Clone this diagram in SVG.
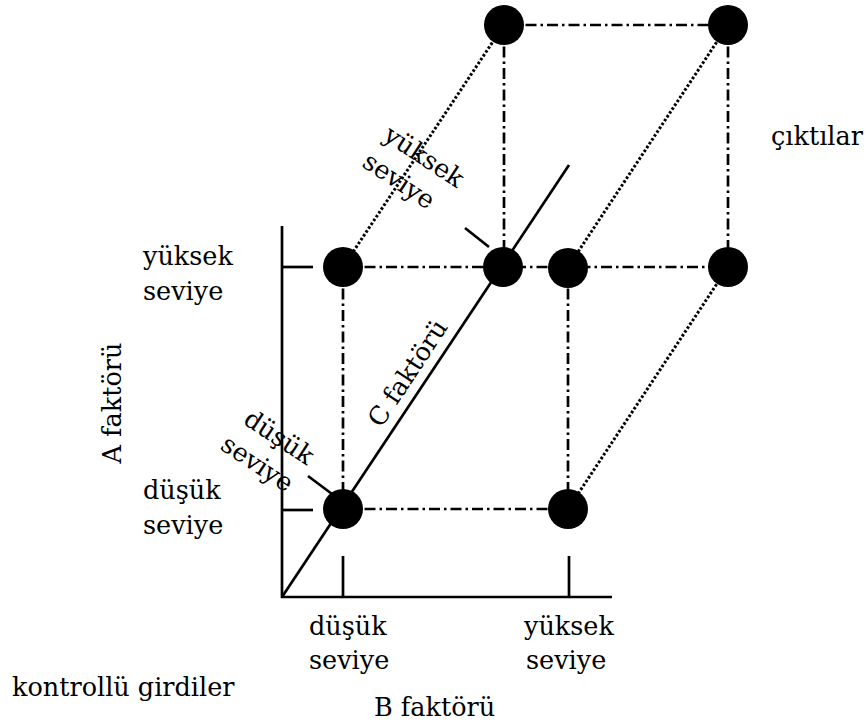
<svg xmlns="http://www.w3.org/2000/svg" width="868" height="726" viewBox="0 0 868 726">
<style>
.solid{stroke:#000;stroke-width:2.7;fill:none}
.dd{stroke:#000;stroke-width:2.7;fill:none;stroke-dasharray:11 4 2.5 4}
.dot{stroke:#000;stroke-width:3;fill:none;stroke-dasharray:2.6 2}
.pt{fill:#000}
.t{font-family:"DejaVu Serif",serif;font-size:25.5px;fill:#000}
</style>
<rect width="868" height="726" fill="#fff"/>
<g id="connectors">
<g id="axes">
<polyline class="solid" points="282,226 282,597 612,597"/>
<line class="solid" x1="282" y1="267" x2="313" y2="267"/>
<line class="solid" x1="282" y1="510" x2="313" y2="510"/>
<line class="solid" x1="343" y1="556" x2="343" y2="597"/>
<line class="solid" x1="569" y1="556" x2="569" y2="597"/>
<line class="solid" x1="282" y1="597" x2="569" y2="165"/>
<line class="solid" x1="308" y1="476" x2="332" y2="494"/>
<line class="solid" x1="465" y1="228" x2="489" y2="247"/>
</g>
<g id="edges-dashdot">
<line class="dd" x1="343" y1="267" x2="728" y2="267"/>
<line class="dd" x1="504" y1="25" x2="728" y2="25"/>
<line class="dd" x1="343" y1="509" x2="568" y2="509"/>
<line class="dd" x1="343" y1="267" x2="343" y2="509"/>
<line class="dd" x1="568" y1="267" x2="568" y2="509"/>
<line class="dd" x1="504" y1="25" x2="504" y2="267"/>
<line class="dd" x1="728" y1="25" x2="728" y2="267"/>
</g>
<g id="edges-dotted">
<line class="dot" x1="343" y1="267" x2="504" y2="25"/>
<line class="dot" x1="568" y1="267" x2="728" y2="25"/>
<line class="dot" x1="568" y1="509" x2="728" y2="267"/>
</g>
</g>
<g id="node-front-low-low"><circle class="pt" cx="343" cy="509" r="20"/></g>
<g id="node-front-low-high"><circle class="pt" cx="568" cy="509" r="20"/></g>
<g id="node-front-high-low"><circle class="pt" cx="343" cy="267" r="20"/></g>
<g id="node-front-high-high"><circle class="pt" cx="568" cy="268" r="20"/></g>
<g id="node-axis-point"><circle class="pt" cx="503" cy="267" r="20"/></g>
<g id="node-back-mid-right"><circle class="pt" cx="728" cy="267" r="20"/></g>
<g id="node-back-top-left"><circle class="pt" cx="504" cy="25" r="20"/></g>
<g id="node-back-top-right"><circle class="pt" cx="728" cy="25" r="20"/></g>
<g id="labels">
<text class="t" x="143" y="265">yüksek</text>
<text class="t" x="143" y="300">seviye</text>
<text class="t" x="143" y="499">düşük</text>
<text class="t" x="143" y="534">seviye</text>
<text class="t" transform="translate(121,403) rotate(-90)" text-anchor="middle">A faktörü</text>
<text class="t" x="309" y="635">düşük</text>
<text class="t" x="309" y="669">seviye</text>
<text class="t" x="524" y="635">yüksek</text>
<text class="t" x="526" y="669">seviye</text>
<text class="t" x="12" y="696">kontrollü girdiler</text>
<text class="t" x="374" y="716">B faktörü</text>
<text class="t" x="771" y="145">çıktılar</text>
<text class="t" transform="translate(415,378) rotate(-56.5)" text-anchor="middle">C faktörü</text>
<g transform="translate(382,139) rotate(33.5)">
<text class="t" x="0" y="0">yüksek</text>
<text class="t" x="-3" y="34">seviye</text>
</g>
<g transform="translate(242,423) rotate(33.5)">
<text class="t" x="0" y="0">düşük</text>
<text class="t" x="-5" y="34">seviye</text>
</g>
</g>
</svg>
